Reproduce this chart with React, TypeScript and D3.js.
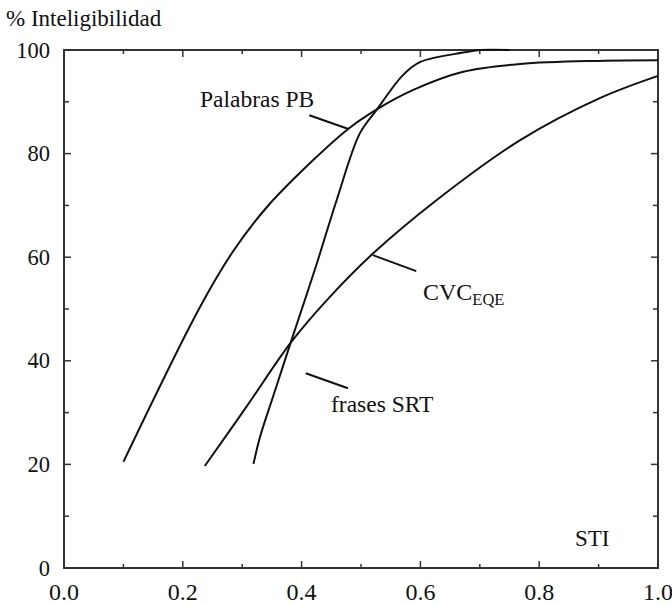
import React from "react";
import * as d3 from "d3";

const pbSTI = [0.1, 0.229, 0.285, 0.341, 0.42, 0.481, 0.526, 0.588, 0.672, 0.768, 0.9, 1.0];
const pbVal = [20.5, 50.4, 61.2, 69.6, 78.8, 85.0, 88.5, 92.3, 95.8, 97.3, 97.9, 98.0];

const cvcSTI = [0.237, 0.307, 0.383, 0.448, 0.521, 0.627, 0.768, 0.902, 1.0];
const cvcVal = [19.7, 31.1, 43.7, 52.4, 60.8, 71.0, 82.6, 90.7, 95.0];

const srtSTI = [0.319, 0.33, 0.352, 0.383, 0.424, 0.459, 0.498, 0.526, 0.571, 0.6, 0.672, 0.7, 0.75];
const srtVal = [20.1, 25.3, 33.1, 44.0, 58.2, 71.0, 83.9, 88.4, 95.2, 97.7, 99.5, 100, 100];

const xTicks = [0, 0.1, 0.2, 0.3, 0.4, 0.5, 0.6, 0.7, 0.8, 0.9, 1.0];
const xLabels = ["0.0", "0.2", "0.4", "0.6", "0.8", "1.0"];
const yTicks = [0, 10, 20, 30, 40, 50, 60, 70, 80, 90, 100];
const yLabels = ["0", "20", "40", "60", "80", "100"];

const FONT = "Times New Roman";

export default function App() {
  const W = 672, H = 605;
  const x = d3.scaleLinear().domain([0, 1]).range([64, 658]);
  const y = d3.scaleLinear().domain([0, 100]).range([568, 50]);
  const line = d3
    .line<[number, number]>()
    .x((d) => x(d[0]))
    .y((d) => y(d[1]))
    .curve(d3.curveCatmullRom.alpha(0.5));
  const mk = (a: number[], b: number[]) => a.map((v, i) => [v, b[i]] as [number, number]);
  const series = [mk(pbSTI, pbVal), mk(cvcSTI, cvcVal), mk(srtSTI, srtVal)];
  const axisColor = "#333";
  const isMajorX = (t: number) => Math.round(t * 10) % 2 === 0;
  const isMajorY = (t: number) => t % 20 === 0;

  return (
    <svg width={W} height={H} style={{ position: "absolute", left: 0, top: 0 }}>
      <rect x={0} y={0} width={W} height={H} fill="#fff" />
      <rect x={x(0)} y={y(100)} width={x(1) - x(0)} height={y(0) - y(100)} fill="none" stroke={axisColor} strokeWidth={2} />
      {xTicks.map((t) => {
        const L = isMajorX(t) ? 7 : 4;
        return (
          <g key={"xt" + t}>
            <line x1={x(t)} x2={x(t)} y1={y(0)} y2={y(0) - L} stroke={axisColor} strokeWidth={1.5} />
            <line x1={x(t)} x2={x(t)} y1={y(100)} y2={y(100) + L} stroke={axisColor} strokeWidth={1.5} />
          </g>
        );
      })}
      {yTicks.map((t) => {
        const L = isMajorY(t) ? 7 : 5;
        return (
          <g key={"yt" + t}>
            <line x1={x(0)} x2={x(0) + L} y1={y(t)} y2={y(t)} stroke={axisColor} strokeWidth={1.5} />
            <line x1={x(1)} x2={x(1) - L} y1={y(t)} y2={y(t)} stroke={axisColor} strokeWidth={1.5} />
          </g>
        );
      })}
      {xLabels.map((l) => (
        <text key={"xl" + l} x={x(+l)} y={600} textAnchor="middle" fontSize={24} fill="#111" fontFamily={FONT}>
          {l}
        </text>
      ))}
      {yLabels.map((l) => (
        <text key={"yl" + l} x={50} y={y(+l)} dy="0.34em" textAnchor="end" fontSize={22.5} fill="#111" fontFamily={FONT}>
          {l}
        </text>
      ))}
      {series.map((s, i) => (
        <path key={"s" + i} d={line(s) || ""} fill="none" stroke="#111" strokeWidth={2} />
      ))}
      <line x1={x(0.413)} y1={y(87.4)} x2={x(0.48)} y2={y(84.7)} stroke="#111" strokeWidth={2} />
      <text x={200} y={107} fontSize={23.5} fill="#111" fontFamily={FONT}>Palabras PB</text>
      <line x1={x(0.407)} y1={y(37.6)} x2={x(0.478)} y2={y(34.7)} stroke="#111" strokeWidth={2} />
      <text x={331} y={412} fontSize={23.5} fill="#111" fontFamily={FONT}>frases SRT</text>
      <line x1={x(0.52)} y1={y(60.4)} x2={x(0.593)} y2={y(57.3)} stroke="#111" strokeWidth={2} />
      <text x={423} y={300} fontSize={24} fill="#111" fontFamily={FONT}>
        CVC<tspan fontSize={16.5} dy={5} fontFamily={FONT}>EQE</tspan>
      </text>
      <text x={575} y={546} fontSize={23} fill="#111" fontFamily={FONT}>STI</text>
      <text x={6} y={26} fontSize={23} fill="#111" fontFamily={FONT}>% Inteligibilidad</text>
    </svg>
  );
}
